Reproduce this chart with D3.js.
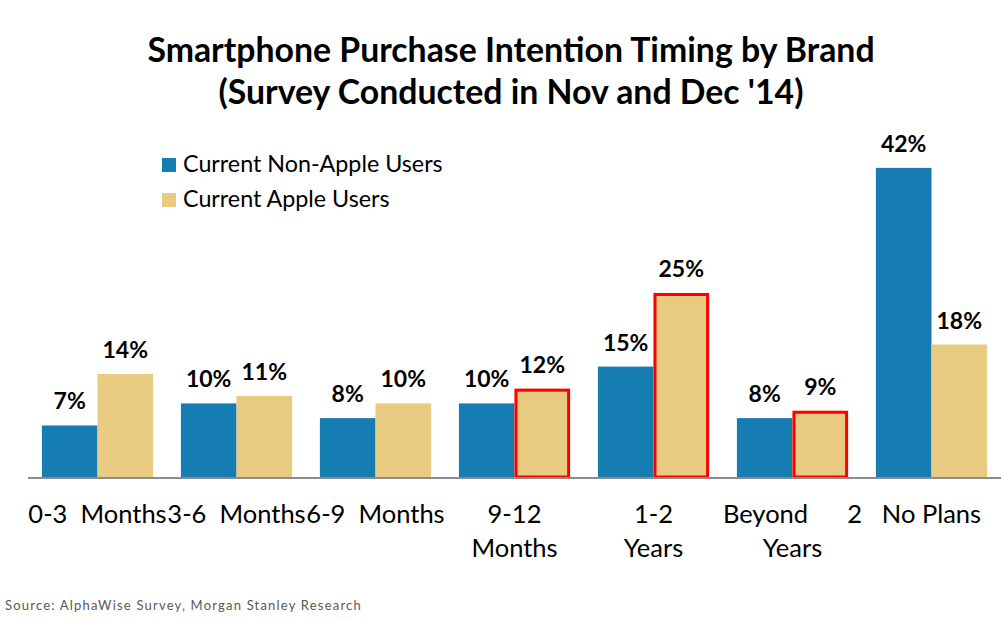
<!DOCTYPE html>
<html><head><meta charset="utf-8">
<script src="https://cdn.jsdelivr.net/npm/d3@7"></script>
<style>body{margin:0;background:#fff}svg{display:block}</style>
</head><body><svg id="c" width="1004" height="621"></svg>
<script>
const categories = ["0-3 Months","3-6 Months","6-9 Months","9-12 Months","1-2 Years","Beyond 2 Years","No Plans"];
const categoryLines = [["0-3  Months"],["3-6  Months"],["6-9  Months"],["9-12","Months"],["1-2","Years"],["Beyond      2","Years"],["No Plans"]];
const seriesNames = ["Current Non-Apple Users","Current Apple Users"];
const nonApple = [7,10,8,10,15,8,42];
const apple = [14,11,10,12,25,9,18];
const highlighted = ["9-12 Months","1-2 Years","Beyond 2 Years"];

const colors = ["#157DB1","#E8CA80"];
const svg = d3.select("#c");
const font = "Lato, 'Open Sans', sans-serif";
const baseY = 477;
const x = d3.scaleBand().domain(categories).range([28,1001]).paddingInner(0.2).paddingOuter(0.1);
const xs = d3.scaleBand().domain([0,1]).range([0,x.bandwidth()]);
const y = d3.scaleLinear().domain([0,45]).range([baseY, baseY-45*7.36]);

// title
svg.append("text").attr("x",511).attr("y",62).attr("text-anchor","middle")
  .attr("font-family",font).attr("font-weight","bold").attr("font-size",33.8).attr("fill","#000")
  .text("Smartphone Purchase Intention Timing by Brand");
svg.append("text").attr("x",511).attr("y",104).attr("text-anchor","middle")
  .attr("font-family",font).attr("font-weight","bold").attr("font-size",33.8).attr("fill","#000")
  .text("(Survey Conducted in Nov and Dec '14)");

const series = [nonApple, apple];
series.forEach((vals,si)=>{
  const g = svg.append("g");
  g.selectAll("rect").data(vals).join("rect")
    .attr("x",(d,i)=>x(categories[i])+xs(si))
    .attr("y",d=>y(d))
    .attr("width",xs.bandwidth())
    .attr("height",d=>y(0)-y(d))
    .attr("fill",colors[si]);
  if(si===1){
    g.selectAll("rect.hl").data(vals.map((v,i)=>({v,i})).filter(o=>highlighted.includes(categories[o.i])))
      .join("rect").attr("class","hl")
      .attr("x",o=>x(categories[o.i])+xs(si)+1.5)
      .attr("y",o=>y(o.v)+1.5)
      .attr("width",xs.bandwidth()-3)
      .attr("height",o=>y(0)-y(o.v)-1.5)
      .attr("fill","none").attr("stroke","#FF0000").attr("stroke-width",3);
  }
  g.selectAll("text").data(vals).join("text")
    .attr("x",(d,i)=>x(categories[i])+xs(si)+xs.bandwidth()/2)
    .attr("y",d=>y(d)-16)
    .attr("text-anchor","middle").attr("font-family",font).attr("font-weight","bold")
    .attr("font-size",23).attr("fill","#000")
    .text(d=>d+"%");
});

// axis line
svg.append("line").attr("x1",28).attr("x2",1001).attr("y1",baseY+1).attr("y2",baseY+1)
  .attr("stroke","#8c8c8c").attr("stroke-width",2);

// category labels
categories.forEach((c,i)=>{
  const t = svg.append("text").attr("text-anchor","middle").attr("font-family",font)
    .attr("font-size",25.5).attr("fill","#000").attr("xml:space","preserve");
  categoryLines[i].forEach((ln,li)=>{
    t.append("tspan").attr("x",x(c)+x.bandwidth()/2).attr("y",523+li*34).text(ln);
  });
});

// legend
seriesNames.forEach((n,i)=>{
  svg.append("rect").attr("x",162).attr("y",158+i*35).attr("width",14).attr("height",14).attr("fill",colors[i]);
  svg.append("text").attr("x",183).attr("y",172+i*35).attr("font-family",font).attr("font-size",23.3)
    .attr("fill","#000").text(n);
});

// source
svg.append("text").attr("x",5).attr("y",610).attr("font-family",font).attr("font-size",13)
  .attr("letter-spacing",1.2).attr("fill","#595959").text("Source: AlphaWise Survey, Morgan Stanley Research");
</script></body></html>
